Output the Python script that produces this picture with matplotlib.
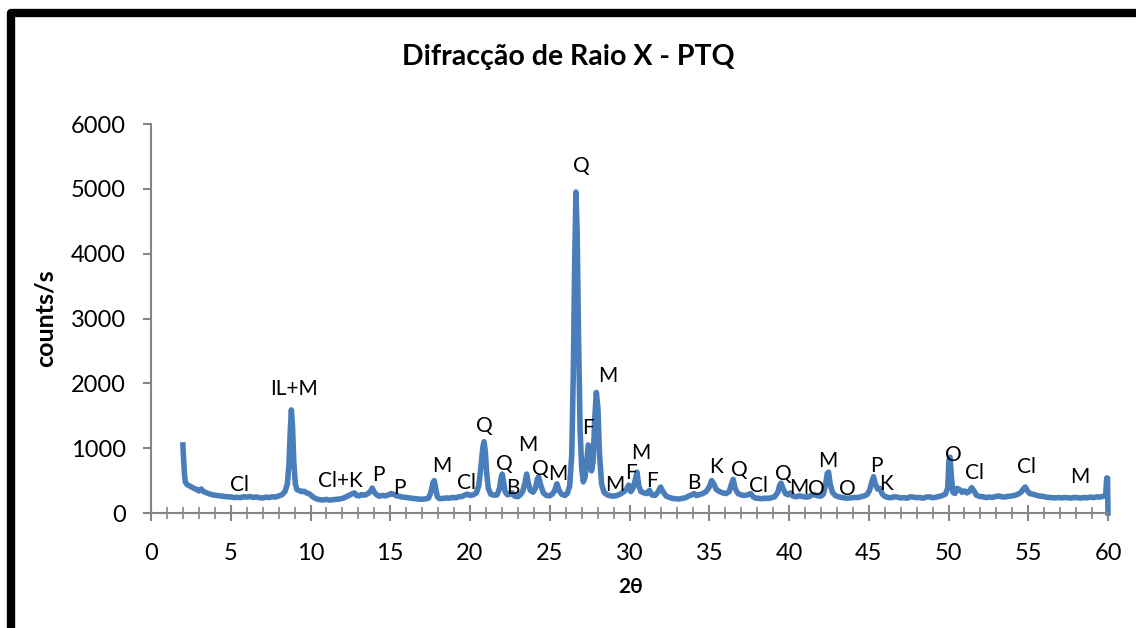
import matplotlib
matplotlib.use("Agg")
import matplotlib.pyplot as plt
from matplotlib.patches import Rectangle
from matplotlib.ticker import MultipleLocator

plt.rcParams['font.family'] = ['Lato', 'DejaVu Sans']

# XRD scan (2theta in degrees, intensity in counts/s)
two_theta = [
    2.00, 2.05, 2.10, 2.15, 2.25, 2.40, 2.55, 2.70, 2.85, 3.00, 3.15, 3.30, 3.45, 3.60, 3.80,
    4.00, 4.20, 4.40, 4.60, 4.80, 5.00, 5.20, 5.40, 5.60, 5.80, 6.00, 6.20, 6.40, 6.60, 6.80,
    7.00, 7.20, 7.40, 7.60, 7.80, 8.00, 8.20, 8.40, 8.55, 8.65, 8.72, 8.80, 8.87, 8.95, 9.05,
    9.15, 9.30, 9.45, 9.60, 9.75, 9.90, 10.05, 10.20, 10.40, 10.60, 10.80, 11.00, 11.20, 11.40,
    11.60, 11.80, 12.00, 12.20, 12.40, 12.60, 12.75, 12.90, 13.05, 13.20, 13.40, 13.60, 13.75,
    13.87, 14.00, 14.15, 14.30, 14.50, 14.70, 14.90, 15.05, 15.20, 15.40, 15.60, 15.80, 16.00,
    16.20, 16.40, 16.60, 16.80, 17.00, 17.20, 17.40, 17.55, 17.68, 17.76, 17.85, 17.95, 18.10,
    18.30, 18.50, 18.70, 18.90, 19.10, 19.30, 19.50, 19.70, 19.85, 20.00, 20.20, 20.40, 20.55,
    20.68, 20.80, 20.88, 20.96, 21.05, 21.15, 21.30, 21.50, 21.70, 21.85, 21.95, 22.02, 22.10,
    22.20, 22.35, 22.50, 22.65, 22.80, 23.00, 23.15, 23.30, 23.45, 23.55, 23.65, 23.78, 23.95,
    24.10, 24.22, 24.30, 24.42, 24.60, 24.80, 25.00, 25.15, 25.30, 25.45, 25.58, 25.75, 25.95,
    26.10, 26.25, 26.38, 26.48, 26.56, 26.64, 26.72, 26.80, 26.90, 27.00, 27.10, 27.22, 27.32,
    27.42, 27.52, 27.62, 27.72, 27.82, 27.92, 28.02, 28.12, 28.25, 28.40, 28.60, 28.80, 29.00,
    29.20, 29.40, 29.60, 29.80, 29.95, 30.08, 30.22, 30.35, 30.47, 30.58, 30.72, 30.90, 31.10,
    31.25, 31.40, 31.60, 31.80, 31.95, 32.10, 32.30, 32.50, 32.70, 32.90, 33.10, 33.30, 33.50,
    33.70, 33.90, 34.05, 34.20, 34.40, 34.60, 34.80, 35.00, 35.15, 35.28, 35.45, 35.65, 35.85,
    36.05, 36.25, 36.40, 36.50, 36.62, 36.80, 37.00, 37.20, 37.40, 37.60, 37.75, 37.90, 38.10,
    38.30, 38.50, 38.70, 38.90, 39.10, 39.30, 39.42, 39.50, 39.62, 39.78, 39.95, 40.10, 40.25,
    40.45, 40.65, 40.85, 41.05, 41.25, 41.45, 41.60, 41.80, 42.00, 42.15, 42.28, 42.40, 42.48,
    42.58, 42.72, 42.90, 43.10, 43.30, 43.50, 43.70, 43.90, 44.10, 44.30, 44.50, 44.70, 44.90,
    45.05, 45.20, 45.30, 45.42, 45.55, 45.70, 45.85, 46.00, 46.20, 46.40, 46.60, 46.80, 47.00,
    47.20, 47.40, 47.60, 47.80, 48.00, 48.20, 48.40, 48.60, 48.80, 49.00, 49.20, 49.40, 49.60,
    49.80, 49.95, 50.03, 50.10, 50.18, 50.28, 50.40, 50.55, 50.70, 50.85, 51.00, 51.15, 51.30,
    51.45, 51.60, 51.75, 51.95, 52.15, 52.35, 52.55, 52.75, 52.95, 53.15, 53.35, 53.55, 53.75,
    53.95, 54.15, 54.35, 54.55, 54.72, 54.82, 54.95, 55.10, 55.30, 55.50, 55.70, 55.90, 56.10,
    56.30, 56.50, 56.70, 56.90, 57.10, 57.30, 57.50, 57.70, 57.90, 58.10, 58.30, 58.50, 58.70,
    58.90, 59.10, 59.30, 59.50, 59.70, 59.85, 59.92, 59.97, 60.00,
]
counts = [
    1050, 800, 600, 480, 440, 420, 400, 380, 365, 340, 370, 330, 315, 300, 285,
    275, 268, 262, 255, 250, 248, 238, 242, 236, 250, 245, 255, 240, 248, 236,
    232, 245, 238, 250, 246, 262, 280, 330, 450, 750, 1200, 1590, 1350, 800, 450,
    360, 345, 330, 335, 310, 300, 270, 240, 215, 205, 200, 210, 198, 205,
    210, 215, 225, 245, 270, 295, 310, 270, 265, 285, 275, 300, 330,
    385, 320, 280, 260, 270, 265, 280, 300, 290, 265, 255, 245, 240,
    232, 225, 220, 215, 212, 218, 230, 320, 470, 500, 380, 250, 220,
    225, 232, 228, 240, 235, 250, 255, 280, 290, 270, 280, 310, 420,
    700, 1000, 1100, 950, 600, 380, 290, 275, 280, 380, 540, 600, 490,
    330, 280, 290, 310, 260, 250, 280, 330, 470, 600, 470, 350, 320,
    380, 520, 560, 440, 310, 270, 265, 290, 340, 450, 350, 290, 270,
    300, 420, 900, 2200, 3800, 4950, 4300, 2800, 1300, 700, 480, 560, 800,
    1050, 950, 650, 800, 1450, 1860, 1620, 900, 450, 320, 280, 265, 260,
    270, 290, 320, 360, 430, 330, 380, 500, 630, 420, 330, 310, 300,
    350, 280, 270, 330, 400, 330, 260, 240, 225, 220, 215, 225, 235,
    260, 280, 300, 270, 285, 300, 330, 400, 500, 450, 360, 330, 310,
    300, 330, 450, 520, 380, 300, 280, 270, 280, 300, 250, 230, 225,
    220, 228, 225, 235, 250, 320, 430, 460, 380, 300, 280, 310, 260,
    250, 265, 255, 245, 250, 280, 285, 265, 260, 290, 420, 610, 630,
    450, 320, 270, 250, 240, 232, 228, 235, 240, 238, 250, 262, 285,
    350, 480, 560, 440, 370, 380, 290, 258, 240, 236, 250, 245, 232,
    238, 228, 250, 244, 236, 240, 228, 246, 250, 236, 242, 255, 268,
    290, 380, 820, 860, 560, 320, 300, 380, 360, 320, 340, 310, 330,
    390, 340, 275, 255, 250, 238, 246, 240, 255, 262, 250, 246, 258,
    262, 272, 290, 320, 380, 400, 340, 300, 290, 275, 262, 258, 245,
    240, 236, 234, 238, 232, 240, 234, 230, 242, 236, 230, 240, 234,
    245, 238, 250, 245, 258, 262, 540, 540, 0,
]

# phase labels placed above the peaks
peak_labels = ['Cl', 'IL+M', 'Cl+K', 'P', 'P', 'M', 'Cl', 'Q', 'Q', 'B', 'M', 'Q', 'M', 'Q',
               'F', 'M', 'M', 'F', 'M', 'F', 'B', 'K', 'Q', 'Cl', 'Q', 'M', 'O', 'M', 'O',
               'P', 'K', 'O', 'Cl', 'Cl', 'M']
label_x = [5.52, 8.95, 11.9, 14.23, 15.6, 18.24, 19.8, 20.88, 22.13, 22.7, 23.64, 24.39, 25.5, 26.96,
           27.4, 28.65, 29.1, 30.09, 30.72, 31.41, 34.04, 35.42, 36.87, 38.06, 39.62, 40.6, 41.72,
           42.44, 43.64, 45.45, 46.08, 50.28, 51.6, 54.92, 58.24]
label_y = [432, 1914, 494, 586, 386, 725, 463, 1343, 756, 386, 1049, 679, 602, 5355,
           1312, 2114, 432, 617, 926, 494, 463, 710, 664, 417, 602, 386, 370,
           802, 370, 725, 448, 895, 617, 710, 556]

line_color = '#4a7ebb'
axis_color = '#868686'

fig = plt.figure(figsize=(11.36, 6.28), dpi=100)
ax = fig.add_axes([151 / 1136, 1 - 513 / 628, (1108 - 151) / 1136, (513 - 124) / 628])

ax.plot(two_theta, counts, color=line_color, lw=4.0, solid_joinstyle='round', clip_on=False)

for txt, x, y in zip(peak_labels, label_x, label_y):
    ax.text(x, y, txt, ha='center', va='center', fontsize=15, color='black')

ax.set_xlim(0, 60)
ax.set_ylim(0, 6000)
ax.xaxis.set_major_locator(MultipleLocator(5))
ax.xaxis.set_minor_locator(MultipleLocator(1))
ax.yaxis.set_major_locator(MultipleLocator(1000))

for side in ['top', 'right']:
    ax.spines[side].set_visible(False)
for side in ['left', 'bottom']:
    ax.spines[side].set_color(axis_color)
    ax.spines[side].set_linewidth(1.5)

ax.tick_params(axis='x', which='major', direction='inout', length=11, width=1.5,
               color=axis_color, pad=16, labelsize=17)
ax.tick_params(axis='x', which='minor', direction='inout', length=8, width=1.2, color=axis_color)
ax.tick_params(axis='y', which='major', direction='out', length=6, width=1.5,
               color=axis_color, pad=12, labelsize=17)

fig.text(0.5, 1 - 57 / 628, 'Difracção de Raio X - PTQ', ha='center', va='center',
         fontsize=20.5, fontweight='bold')
fig.text(45 / 1136, 1 - 318 / 628, 'counts/s', rotation=90, ha='center', va='center',
         fontsize=18, fontweight='bold')
fig.text(631 / 1136, 1 - 587 / 628, '2θ', ha='center', va='center',
         fontsize=15, fontweight='bold')

# black chart-area frame
fig.add_artist(Rectangle((11 / 1136, -2 / 628), 1.02, 1 - 13 / 628 + 2 / 628,
                         transform=fig.transFigure, fill=False, edgecolor='black',
                         lw=6, joinstyle='round', clip_on=False))

fig.savefig('out.png', dpi=100)
